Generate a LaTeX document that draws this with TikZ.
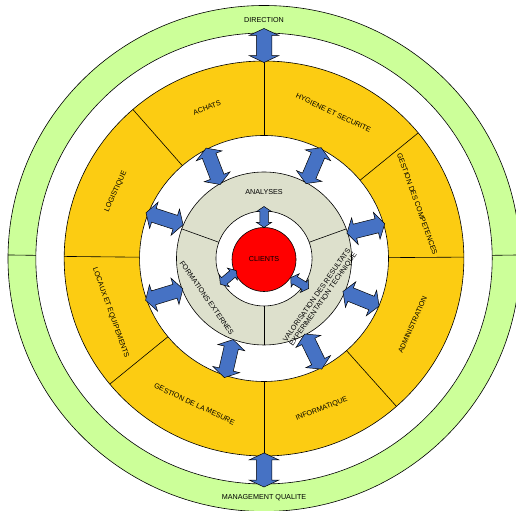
\documentclass[tikz,border=0pt]{standalone}
\usepackage{fontspec}
\setmainfont{Liberation Sans}
\usetikzlibrary{shapes.arrows}
\definecolor{ringgreen}{RGB}{204,255,153}
\definecolor{ringyellow}{RGB}{252,204,18}
\definecolor{ringgrey}{RGB}{221,224,204}
\definecolor{arrowblue}{RGB}{70,114,196}
\begin{document}
\begin{tikzpicture}[x=1.012pt, y=1pt, line width=0.6pt,
  lbl/.style={font=\fontsize{7.2}{7.6}\selectfont, inner sep=0pt, align=center},
  bigarrow/.style={double arrow, draw=black, fill=arrowblue, line width=0.5pt, inner xsep=0pt, inner ysep=7.5pt, double arrow head extend=7pt, double arrow tip angle=130, minimum height=34pt},
  midarrow/.style={bigarrow, inner ysep=7pt, double arrow head extend=6.5pt, double arrow tip angle=118, minimum height=39pt},
  smallarrow/.style={bigarrow, inner ysep=4pt, double arrow head extend=3.5pt, double arrow tip angle=112, minimum height=21pt}]
\clip (-260.9,-252.5) rectangle (249.0,258.5);

% rings
\draw[fill=ringgreen] (0,0) circle[radius=253];
\draw[fill=white] (0,0) circle[radius=225.5];
\draw[fill=ringyellow] (0,0) circle[radius=197.5];
\draw[fill=white] (0,0) circle[radius=123];
\draw[fill=ringgrey] (0,0) circle[radius=86.5];
\draw[fill=white] (0,0) circle[radius=47.5];

% dividers
\draw (179.2:225.5) -- (179.2:253);
\draw (0.8:225.5) -- (0.8:253);
\draw (0.4:123) -- (0.4:197.5);
\draw (39.5:123) -- (39.5:197.5);
\draw (90:123) -- (90:197.5);
\draw (131:123) -- (131:197.5);
\draw (179.4:123) -- (179.4:197.5);
\draw (219.5:123) -- (219.5:197.5);
\draw (270:123) -- (270:197.5);
\draw (311.5:123) -- (311.5:197.5);
\draw (20:47.5) -- (20:86.5);
\draw (160:47.5) -- (160:86.5);
\draw (270:47.5) -- (270:86.5);

\node[circle, draw, fill=red, minimum size=64pt, lbl] (clients) at (0,-1) {CLIENTS};

% labels
\node[lbl] (direction) at (90:238) {DIRECTION};
\node[lbl] (qualite) at (270:239.5) {MANAGEMENT QUALITE};
\node[lbl, rotate=20.5] (achats) at (110.5:161) {ACHATS};
\node[lbl, rotate=-25.25] (hygiene) at (64.75:161) {HYGIENE ET SECURITE};
\node[lbl, rotate=-70.25] (competences) at (19.75:161) {GESTION DES COMPETENCES};
\node[lbl, rotate=65.75] (administration) at (-24.25:161) {ADMINISTRATION};
\node[lbl, rotate=20.75] (informatique) at (-69.25:161) {INFORMATIQUE};
\node[lbl, rotate=-25.25] (mesure) at (244.75:161) {GESTION DE LA MESURE};
\node[lbl, rotate=-70.25] (locaux) at (199.75:161) {LOCAUX ET EQUIPEMENTS};
\node[lbl, rotate=65.5] (logistique) at (155.5:161) {LOGISTIQUE};
\node[lbl] (analyses) at (90:66) {ANALYSES};
\node[lbl, rotate=-55] (formations) at (215:69) {FORMATIONS EXTERNES};
\node[lbl, rotate=55] (valorisation) at (-35:68) {VALORISATION DES RESULTATS\\EXPERIMENTATION TECHNIQUE};

% arrows
\node[bigarrow, rotate=90] (direction-a) at (90:213) {};
\node[bigarrow, rotate=90] (qualite-a) at (270:211.5) {};
\node[midarrow, rotate=111] (achats-a) at (118.6:105) {};
\node[midarrow, rotate=67] (hygiene-a) at (62.2:105) {};
\node[midarrow, rotate=14] (competences-a) at (16.6:105) {};
\node[midarrow, rotate=-22] (administration-a) at (-22.8:104) {};
\node[midarrow, rotate=-64] (informatique-a) at (-62.4:105) {};
\node[midarrow, rotate=257] (mesure-a) at (250.8:106) {};
\node[midarrow, rotate=197] (locaux-a) at (200.1:105) {};
\node[midarrow, rotate=162] (logistique-a) at (158:106) {};
\node[smallarrow, rotate=90] (analyses-a) at (90:41.5) {};
\node[smallarrow, rotate=220] (formations-a) at (208.3:40) {};
\node[smallarrow, rotate=-31] (valorisation-a) at (-34.9:43) {};
\end{tikzpicture}
\end{document}
